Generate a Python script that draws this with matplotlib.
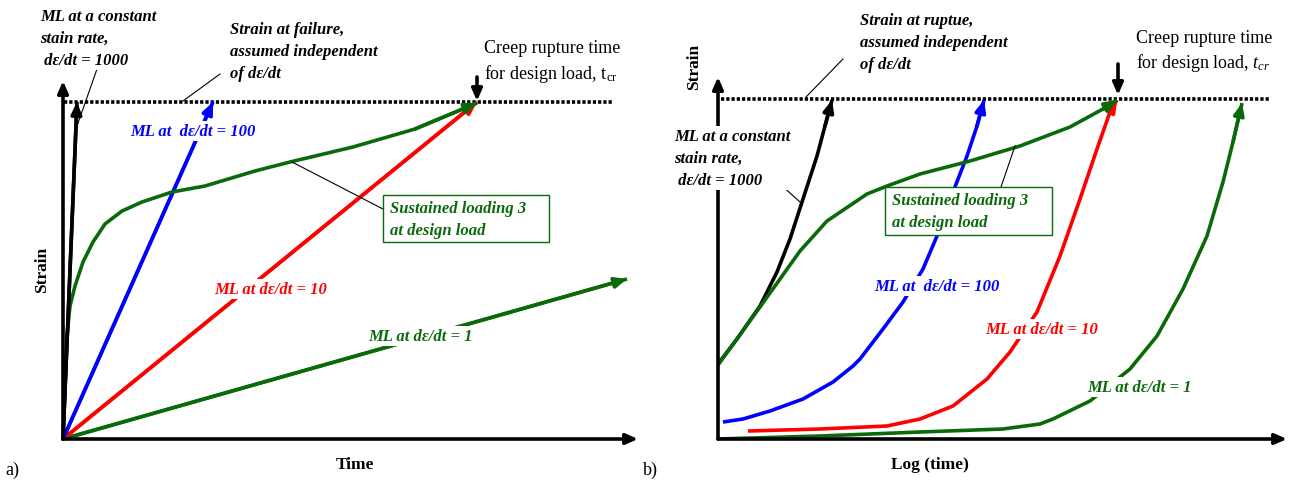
import matplotlib
matplotlib.use('Agg')
from matplotlib import pyplot as plt, rc
from matplotlib.patches import Rectangle

rc('font', family='Liberation Serif')
rc('mathtext', fontset='custom', rm='Liberation Serif', it='Liberation Serif:italic')

BLACK = 'black'
BLUE = '#0000ff'
RED = '#ff0000'
GREEN = '#0a6a0a'

# panel a: linear time (arbitrary units, t_cr = 414), strain (failure = 337)
a_failure = 337
a_tcr = 414
a_ml1000_t = [0, 14]
a_ml1000_s = [0, 337]
a_ml100_t = [0, 150]
a_ml100_s = [0, 337]
a_ml10_t = [0, 414]
a_ml10_s = [0, 337]
a_ml1_t = [0, 564]
a_ml1_s = [0, 160]
a_sus_t = [0, 4, 7, 12, 20, 30, 42, 59, 79, 109, 142, 192, 227, 290, 352, 414]
a_sus_s = [0, 103, 133, 153, 177, 197, 215, 228, 237, 247, 253, 268, 277, 292, 310, 336]

# panel b: log(time), strain
b_failure = 340
b_tcr = 400
b_ml1000_t = [0, 19, 42, 59, 72, 85, 99, 107, 114]
b_ml1000_s = [75, 100, 133, 167, 200, 240, 283, 313, 339]
b_sus_t = [0, 42, 82, 109, 149, 169, 202, 252, 302, 352, 385, 399]
b_sus_s = [74, 132, 188, 218, 245, 253, 265, 278, 293, 312, 330, 339]
b_ml100_t = [5, 25, 52, 85, 115, 135, 142, 165, 185, 205, 219, 235, 249, 259, 266]
b_ml100_s = [17, 20, 28, 40, 57, 73, 80, 110, 137, 170, 203, 247, 283, 313, 339]
b_ml10_t = [30, 102, 169, 202, 235, 269, 292, 319, 342, 362, 379, 392, 399]
b_ml10_s = [8, 10, 13, 20, 33, 60, 87, 127, 183, 240, 290, 327, 339]
b_ml1_t = [0, 102, 202, 285, 322, 335, 372, 412, 439, 465, 489, 505, 515, 524]
b_ml1_s = [0, 3, 7, 10, 15, 20, 38, 70, 103, 150, 203, 257, 297, 336]

W, H = 1291, 485
fig = plt.figure(figsize=(W / 100, H / 100), dpi=100)
fig.patch.set_facecolor('white')

LW = 2.6
FS = 12


def curve(ax, t, s, color):
    ax.plot(t, s, color=color, lw=LW, solid_capstyle='butt', solid_joinstyle='round', zorder=3)
    ax.annotate('', xy=(t[-1], s[-1]), xytext=(t[-2], s[-2]),
                arrowprops=dict(arrowstyle='-|>,head_length=0.5,head_width=0.22', color=color,
                                lw=LW, mutation_scale=14, shrinkA=0, shrinkB=0), zorder=3)


def arrow(ax, start, end, lw=2.6):
    ax.annotate('', xy=end, xytext=start,
                arrowprops=dict(arrowstyle='-|>,head_length=0.5,head_width=0.22', color='black',
                                lw=lw, mutation_scale=14, shrinkA=0, shrinkB=0), zorder=4)


def leader(ax, p0, p1):
    ax.plot([p0[0], p1[0]], [p0[1], p1[1]], color='black', lw=0.8, zorder=4)


def label(ax, x, y, s, color, **kw):
    kw.setdefault('ha', 'center')
    kw.setdefault('va', 'center')
    ax.text(x, y, s, color=color, fontsize=FS, fontweight='bold', fontstyle='italic',
            linespacing=1.5, zorder=6,
            bbox=dict(facecolor='white', edgecolor='none', pad=1.5), **kw)


def box(ax, x0, y0, x1, y1, tx, ty):
    ax.add_patch(Rectangle((x0, y0), x1 - x0, y1 - y0, facecolor='white',
                           edgecolor=GREEN, lw=1.0, zorder=5))
    ax.text(tx, ty, 'Sustained loading 3\nat design load', color=GREEN, fontsize=FS,
            fontweight='bold', fontstyle='italic', ha='left', va='center',
            linespacing=1.5, zorder=6)


# ---------------- panel a ----------------
axa = fig.add_axes([63 / W, 45 / H, 580 / W, 440 / H])
axa.set_xlim(0, 580)
axa.set_ylim(0, 440)
axa.axis('off')

arrow(axa, (0, 0), (575, 0))
arrow(axa, (0, 0), (0, 358))
axa.plot([1, 550], [a_failure, a_failure], color='black', lw=2.6,
         linestyle=(0, (0.9, 0.55)), zorder=2)

curve(axa, a_ml1_t, a_ml1_s, GREEN)
curve(axa, a_ml10_t, a_ml10_s, RED)
curve(axa, a_ml100_t, a_ml100_s, BLUE)
curve(axa, a_sus_t, a_sus_s, GREEN)
curve(axa, a_ml1000_t, a_ml1000_s, BLACK)
arrow(axa, (a_tcr, 362), (a_tcr, a_failure + 1))

label(axa, 130, 308, 'ML at  d\u03b5/dt = 100', BLUE)
label(axa, 208, 150, 'ML at d\u03b5/dt = 10', RED)
label(axa, 357, 103, 'ML at d\u03b5/dt = 1', GREEN)
label(axa, -23, 431, 'ML at a constant\nstain rate,\n d\u03b5/dt = 1000', BLACK, ha='left', va='top')
label(axa, 167, 418, 'Strain at failure,\nassumed independent\nof d\u03b5/dt', BLACK, ha='left', va='top')
box(axa, 320, 197, 486, 244, 327, 220)
leader(axa, (229, 277), (320, 230))
leader(axa, (34, 370), (14, 313))
leader(axa, (157, 365), (120, 338))

axa.text(421, 400, 'Creep rupture time\nfor design load, t$_{\\mathrm{cr}}$', fontsize=13,
         ha='left', va='top', linespacing=1.4)
axa.text(-21, 170, 'Strain', fontsize=12.5, fontweight='bold', rotation=90, ha='center', va='center')
axa.text(292, -25, 'Time', fontsize=12.5, fontweight='bold', ha='center', va='center')
axa.text(-58, -30, 'a)', fontsize=13, ha='left', va='center')

# ---------------- panel b ----------------
axb = fig.add_axes([718 / W, 45 / H, 573 / W, 440 / H])
axb.set_xlim(0, 573)
axb.set_ylim(0, 440)
axb.axis('off')

arrow(axb, (0, 0), (569, 0))
arrow(axb, (0, 0), (0, 362))
axb.plot([3, 551], [b_failure, b_failure], color='black', lw=2.6,
         linestyle=(0, (0.9, 0.55)), zorder=2)

curve(axb, b_ml1_t, b_ml1_s, GREEN)
curve(axb, b_ml10_t, b_ml10_s, RED)
curve(axb, b_ml100_t, b_ml100_s, BLUE)
curve(axb, b_ml1000_t, b_ml1000_s, BLACK)
curve(axb, b_sus_t, b_sus_s, GREEN)
arrow(axb, (b_tcr, 375), (b_tcr, b_failure + 4))

label(axb, 219, 153, 'ML at  d\u03b5/dt = 100', BLUE)
label(axb, 324, 110, 'ML at d\u03b5/dt = 10', RED)
label(axb, 421, 52, 'ML at d\u03b5/dt = 1', GREEN)
label(axb, -44, 311, 'ML at a constant\nstain rate,\n d\u03b5/dt = 1000', BLACK, ha='left', va='top')
label(axb, 142, 427, 'Strain at ruptue,\nassumed independent\nof d\u03b5/dt', BLACK, ha='left', va='top')
box(axb, 167, 204, 334, 252, 174, 228)
leader(axb, (297, 293), (283, 252))
leader(axb, (53, 263), (82, 237))
leader(axb, (125, 380), (88, 342))

axb.text(418, 410, 'Creep rupture time\nfor design load, $t_{cr}$', fontsize=13,
         ha='left', va='top', linespacing=1.3)
axb.text(-24, 373, 'Strain', fontsize=12.5, fontweight='bold', rotation=90, ha='center', va='center')
axb.text(212, -25, 'Log (time)', fontsize=12.5, fontweight='bold', ha='center', va='center')
axb.text(-75, -30, 'b)', fontsize=13, ha='left', va='center')

fig.savefig('out.png', dpi=100)
